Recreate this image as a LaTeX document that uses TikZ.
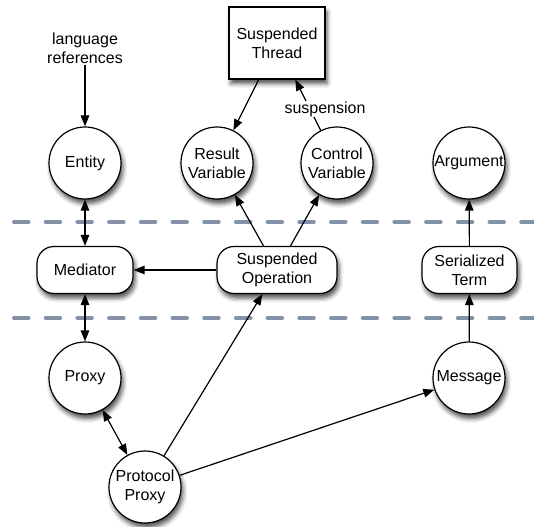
\documentclass[tikz,border=0pt]{standalone}
\usepackage{fontspec}
\setmainfont{Liberation Sans}
\usetikzlibrary{arrows.meta,shadows.blur}
\definecolor{laneline}{RGB}{132,146,168}
\tikzset{
  base/.style={draw, fill=white, line width=1.2pt, align=center, inner sep=1pt,
    font=\fontsize{16}{19}\selectfont,
    blur shadow={shadow xshift=2pt, shadow yshift=-4.5pt, shadow blur radius=4.5pt, shadow opacity=70}},
  circ/.style={base, circle, minimum size=72pt, inner sep=0pt},
  pill/.style={base, rectangle, rounded corners=17pt, minimum height=47pt},
  box/.style={base, rectangle, minimum width=96pt, minimum height=72pt},
  lbl/.style={font=\fontsize{16}{19}\selectfont, align=center, inner sep=1pt},
  conn/.style={line width=1.2pt, -{Triangle[length=11pt,width=8.5pt]}},
  biconn/.style={line width=1.2pt, {Triangle[length=11pt,width=8.5pt]}-{Triangle[length=11pt,width=8.5pt]}},
  lane/.style={laneline, line width=4pt, line cap=round, dash pattern=on 14.5pt off 17.2pt}
}
\begin{document}
\begin{tikzpicture}[x=1pt,y=-1pt]
\useasboundingbox (0,0) rectangle (534,526);

% layer separators
\coordinate (l1a) at (14,222);
\coordinate (l1b) at (540,222);
\coordinate (l2a) at (14,318);
\coordinate (l2b) at (540,318);
\draw[lane] (l1a) -- (l1b);
\draw[lane] (l2a) -- (l2b);

% upper layer
\node[lbl] (lang) at (85,48) {language\\references};
\node[box] (thread) at (277,43) {Suspended\\Thread};
\node[circ] (entity) at (85,163) {Entity};
\node[circ] (result) at (217,163) {Result\\Variable};
\node[circ] (control) at (337,163) {Control\\Variable};
\node[circ] (argument) at (469,163) {Argument};

% middle layer
\node[pill, minimum width=96pt] (mediator) at (85,270) {Mediator};
\node[pill, minimum width=120pt] (suspop) at (277,270) {Suspended\\Operation};
\node[pill, minimum width=95pt] (serterm) at (469.5,270) {Serialized\\Term};

% lower layer
\node[circ] (proxy) at (85,378) {Proxy};
\node[circ] (message) at (469,378) {Message};
\node[circ] (protoproxy) at (145,487) {Protocol\\Proxy};

% connectors
\draw[conn] (lang) -- (entity);
\draw[conn] (thread) -- (result);
\draw[conn] (control) -- (thread);
\node[lbl, fill=white] (suspension) at (325,109) {suspension};
\draw[biconn] (entity) -- (mediator);
\draw[biconn] (mediator) -- (proxy);
\draw[biconn] (proxy) -- (protoproxy);
\draw[conn] (suspop) -- (mediator);
\draw[conn] (suspop) -- (result);
\draw[conn] (suspop) -- (control);
\draw[conn] (protoproxy) -- (suspop);
\draw[conn] (protoproxy) -- (message);
\draw[conn] (message) -- (serterm);
\draw[conn] (serterm) -- (argument);
\end{tikzpicture}
\end{document}
